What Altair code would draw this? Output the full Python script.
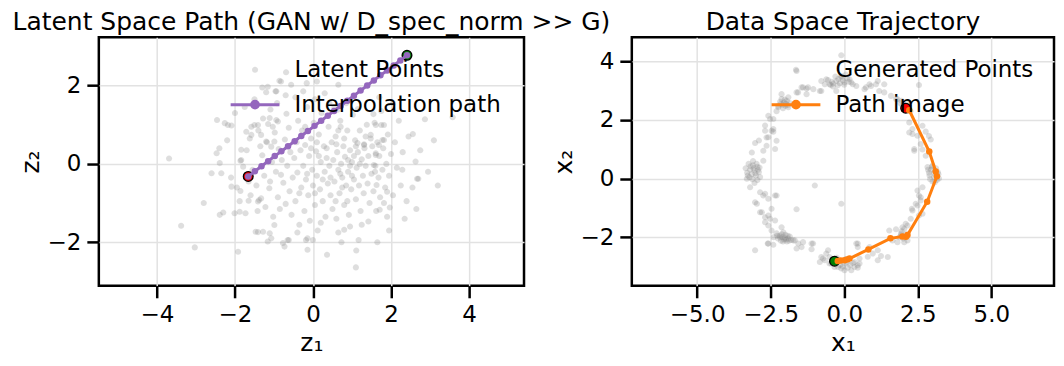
import altair as alt
import pandas as pd

# ---------------- data ----------------
LATENT_Z1 = [
    -3.69, -3.38, -3.03, -2.80, -2.46, -2.39, -2.30, -2.60, -2.39, -2.40, -2.18, -2.01, -1.92, -1.84, -1.79,
    -1.73, -1.47, -1.28, -1.11, -1.07, -0.99, -0.77, -0.62, -0.18, 0.00, 0.36, 1.10, 1.11, 1.17, 0.80,
    1.42, 1.82, 1.63, 2.29, 2.70, 2.63, 2.56, 2.87, 3.58, 1.82, 1.78, 1.61, 1.59, 1.31, 1.55,
    0.65, 0.10, -0.16, -0.56, -0.82, -1.20, -0.96, -1.09, -0.94, -1.28, -1.50, -1.62, 0.71, 0.63, 0.42,
    -1.45, -1.38, -1.30, -1.25, -1.22, -1.18, -1.12, -1.05, -1.02, -0.98, -0.95, -0.90, -0.88, -0.85, -0.80,
    -0.76, -0.72, -0.70, -0.66, -0.62, -0.60, -0.58, -0.55, -0.52, -1.55, -1.60, -1.35, -1.15, -0.92, -0.68,
    -1.42, -1.70, -1.95, -2.10, -1.88, -2.20, -1.65, -1.40, -1.10, -0.82,
    -0.48, -0.45, -0.42, -0.40, -0.38, -0.35, -0.32, -0.30, -0.28, -0.25, -0.22, -0.20, -0.18, -0.15, -0.12,
    -0.10, -0.08, -0.05, -0.02, 0.00, 0.02, 0.05, 0.08, 0.10, 0.12, 0.15, 0.18, 0.20, 0.22, 0.25,
    0.28, 0.30, 0.32, 0.35, 0.38, 0.40, 0.42, 0.45, 0.48, 0.50, -0.45, -0.25, 0.05, 0.30, -0.35,
    -0.15, 0.05, 0.15, 0.25, 0.35, -0.05, 0.45, -0.40, 0.20, 0.10, -0.20,
    0.52, 0.55, 0.58, 0.60, 0.62, 0.65, 0.68, 0.70, 0.72, 0.75, 0.78, 0.80, 0.82, 0.85, 0.88,
    0.90, 0.92, 0.95, 0.98, 1.00, 1.02, 1.05, 1.08, 1.10, 1.12, 1.15, 1.18, 1.20, 1.22, 1.25,
    1.28, 1.30, 1.32, 1.35, 1.38, 1.40, 1.42, 1.45, 1.48, 1.50, 0.55, 0.85, 1.15, 0.65, 0.95,
    1.25, 0.60, 0.75, 0.90, 1.05, 0.70, 1.00, 0.80, 1.20, 0.58, 1.10, 0.88, 1.35, 0.95, 0.65,
    1.52, 1.55, 1.58, 1.60, 1.62, 1.65, 1.68, 1.70, 1.72, 1.75, 1.78, 1.80, 1.85, 1.88, 1.90,
    1.92, 1.95, 2.00, 2.05, 2.10, 2.15, 2.20, 2.25, 2.30, 2.40, 2.45, 2.05, 1.70, 2.35, 1.95,
    2.55, 2.75, 2.95, 3.10, 2.65, 3.20, -1.75, -1.50, -1.30, -0.70, -2.00, -0.86, -0.69,
    -1.16, -0.94, -2.26, -2.09, -2.47, -2.35, -2.09, -1.86, -1.88, -1.41, -1.16, -0.65, -0.73, -0.14, -0.14,
    -1.58, -1.41, -1.71, -1.58, -1.33, -1.11, -1.03, -0.90, -1.20, -0.99, -1.07, -1.84, -1.86, -1.65, -1.41,
    -1.33, 2.67, 1.97, 1.71, 1.90, 1.65, 0.73, 1.75, 1.61, 1.82, 1.69, 1.48, 1.61, 1.56, 1.31, 1.14,
]
LATENT_Z2 = [
    0.14, -1.58, -2.13, -1.00, 1.12, -1.30, -1.24, -0.24, 0.02, 0.40, 0.99, -1.26, -2.24, 0.10, -0.07,
    -1.26, -1.73, -1.73, -1.77, -1.90, -1.56, -2.02, -1.94, -1.94, -1.94, -2.32, -2.64, -2.21, -1.94, -1.68,
    -1.47, -1.00, -0.54, -0.15, -0.38, 0.06, 0.76, 1.14, 1.19, 0.99, 0.61, 0.27, -0.20, 0.50, 1.27,
    2.02, 2.10, 2.06, 2.02, 2.10, 1.83, 1.85, 1.39, 1.12, 1.16, 0.99, 0.65, 0.95, 1.38, 1.55,
    -0.55, -0.92, 0.22, -0.30, -1.10, 0.55, -0.62, 0.05, -1.35, 0.80, -0.20, -0.85, 0.38, -1.15, 0.10,
    -0.48, 0.62, -1.02, -0.05, 0.92, -0.70, 0.30, -1.30, -0.35, -0.15, -0.80, 0.45, 1.02, 1.55, 1.28,
    -1.20, 0.35, -0.60, -0.35, -0.95, 0.60, -0.45, 0.85, -0.45, -0.28,
    0.15, -0.95, 0.55, -0.22, 1.10, -1.55, 0.35, -0.60, 0.85, -0.05, -1.20, 0.48, -0.40, 1.45, -0.80,
    0.20, -1.45, 0.65, -0.15, -0.55, 1.05, -1.05, 0.32, -0.30, -1.70, 0.75, -0.65, 0.05, 1.30, -0.95,
    0.45, -0.20, -1.35, 0.15, -0.50, 0.95, -0.05, -0.80, 0.55, -1.15, 1.70, 1.85, 1.65, 1.80, -0.75,
    -0.25, -0.75, 0.20, -0.40, 0.40, 0.40, -0.35, -1.75, -1.50, 0.55, 0.95,
    0.10, -0.45, 0.70, -1.40, 0.30, -0.15, -0.75, 1.10, 0.00, -0.35, 0.45, -1.05, 0.18, -0.55, 0.85,
    -0.20, -1.30, 0.35, -0.65, 0.05, 1.25, -0.40, 0.60, -0.90, -0.10, 0.30, -0.55, 0.85, -1.20, 0.12,
    -0.30, -0.75, 0.40, -0.05, 1.00, -0.50, 0.20, -1.00, 0.65, -0.25, 1.45, 1.55, 1.40, -1.75, -1.60,
    -1.55, 0.50, -0.60, 0.10, 0.20, -0.25, -0.30, 0.65, 0.00, -0.95, 0.45, -0.95, 0.70, -0.05, 0.85,
    0.45, -0.70, 1.05, -0.05, -1.20, 0.55, -0.35, 0.20, -0.85, 1.35, -0.15, 0.40, -0.60, 0.00, -1.35,
    0.75, -0.30, 0.25, -0.80, 0.55, -0.10, 1.10, -0.55, 0.30, -0.95, 0.70, 1.55, 1.70, -1.40, -1.70,
    -0.60, 0.35, -0.20, 0.60, -1.15, -0.55, 1.45, 1.65, 1.95, 1.75, 1.30, 2.12, 2.34,
    1.97, 1.85, 1.04, 0.98, 0.27, -0.24, -0.58, -0.69, -1.22, -1.74, -1.98, -1.94, -2.11, -1.90, -2.19,
    0.95, 0.99, 0.82, 0.74, 0.74, 1.17, 0.95, 1.08, 0.57, 0.57, 0.44, 0.36, 0.08, -0.94, -0.96,
    -0.88, -0.38, -1.11, -1.17, -0.71, -2.00, -2.00, 0.99, 0.99, 0.61, 0.48, 0.74, 0.23, -0.03, 0.48, 0.53,
]
PATH_Z1 = [-1.66, -1.49, -1.32, -1.15, -0.98, -0.81, -0.64, -0.47, -0.30, -0.13, 0.04, 0.21, 0.38,
           0.54, 0.71, 0.88, 1.05, 1.22, 1.39, 1.56, 1.73, 1.90, 2.07, 2.24, 2.41]
PATH_Z2 = [-0.32, -0.19, -0.06, 0.07, 0.20, 0.32, 0.45, 0.58, 0.71, 0.84, 0.97, 1.10, 1.23,
           1.35, 1.48, 1.61, 1.74, 1.87, 2.00, 2.13, 2.26, 2.38, 2.51, 2.64, 2.77]
LAT_RED = (-1.66, -0.32)
LAT_GREEN = (2.41, 2.77)

GEN_X1 = [
    -0.61, -0.50, -0.38, -0.27, -0.10, 0.01, 0.18, 0.29, 0.41, -0.55, -0.46, -0.38, -0.27, -0.10, 0.24,
    -0.20, -0.05, 0.10, -0.30, -0.15, 0.05, -0.42, 0.15, -0.22, 0.00, -0.10, -1.62,
    -0.78, -0.83, -0.78, -0.66, -1.45, -1.23, -1.28, -1.40, -1.28, -1.57, -1.62, -1.05,
    -2.13, -1.90, -2.24, -2.13, -1.90, -2.24, -2.05, -1.98, -2.10, -1.95, -2.18, -2.00, -1.85, -2.08, -2.30,
    -2.02, -1.92, -2.15,
    -2.58, -2.41, -2.69, -2.47, -2.64, -2.41, -2.52, -2.58, -2.69, -2.41, -2.30, -2.35, -3.03, -2.75, -3.14,
    -2.64, -2.75, -2.90,
    -3.25, -3.10, -2.95, -3.20, -3.05, -2.90, -3.15, -3.00, -2.86, -3.22, -3.08, -2.98, -3.30, -3.12, -2.93,
    -3.18, -3.02, -3.28, -2.88, -3.10, -3.31, -3.20, -3.05, -3.35, -2.95,
    -2.86, -2.75, -3.03, -2.58, -2.30, -2.69, -2.97, -2.86, -2.58, -2.69, -2.80, -2.69, -2.47, -2.52, -2.35,
    -2.58, -2.47, -2.13, -2.07, -1.62, -2.35,
    -2.30, -2.20, -2.10, -2.00, -1.90, -1.80, -2.25, -2.15, -2.05, -1.95, -1.85, -2.12, -2.02, -2.18, -1.92,
    -2.08, -1.98, -2.28, -1.88, -2.40, -2.60, -2.41, -3.03, -2.58,
    -1.68, -1.56, -1.45, -1.40, -1.06, -1.11, -1.62, -1.11, -1.73, -0.83, -0.72, -0.55, -0.50, -0.78, -0.61,
    -0.66,
    -0.50, -0.33, -0.10, 0.12, 0.35, 0.52, -0.21, 0.01, -0.44, -0.21, 0.01, 0.24, 0.46, -0.30, -0.15,
    0.10, 0.20, -0.05, -0.38, 0.30, -0.25, 0.05,
    0.41, 0.46, 0.80, 1.14, 0.86, 0.97, 1.14, 1.48, 0.46, 0.52, 1.25, 0.46, 0.35,
    1.53, 1.64, 1.93, 2.15, 1.98, 2.09, 1.76, 2.04, 1.93, 1.81, 2.04, 1.88, 2.00, 1.95, 2.10,
    2.32, 2.43, 2.60, 2.49, 2.66, 2.54, 2.60, 2.49, 2.66, 2.54, 2.30, 2.26, 2.15,
    2.83, 2.95, 3.10, 3.20, 3.05, 2.90, 3.15, 3.00, 2.88, 3.12, 3.22, 2.98, 3.05, 2.92, 3.18,
    3.08, 2.85, 3.00,
    2.38, 2.60, 2.49, 2.32, 2.21, 2.66, 2.88, 2.94, 2.77, 2.32, 2.21, 2.38, 2.77, 2.66,
    1.98, 2.15, 1.81, 2.05, 2.20, 1.90, 2.10, 1.95, 2.25, 2.54,
    1.14, 1.36, 0.91, 0.69, 0.74, 0.86, 1.08, 1.19, 1.36, 1.59, 1.76,
    -1.00, -0.10,
]
GEN_X2 = [
    3.39, 3.22, 3.24, 3.33, 3.45, 3.28, 3.39, 3.22, 3.16, 3.36, 3.19, 3.14, 2.99, 3.50, 3.28,
    3.40, 3.35, 3.42, 3.48, 3.25, 3.55, 3.30, 3.30, 3.18, 3.20, 4.21, 3.67,
    2.99, 2.99, 3.33, 3.22, 3.11, 3.11, 3.07, 3.11, 2.88, 2.94, 2.94, 3.05,
    2.71, 2.43, 2.43, 2.88, 2.77, 2.48, 2.60, 2.55, 2.52, 2.65, 2.62, 2.48, 2.58, 2.40, 2.30,
    2.70, 2.50, 2.55,
    2.14, 2.03, 1.81, 1.63, 1.40, 1.60, 2.03, 1.41, 1.63, 1.69, 1.29, 1.01, 1.21, 0.95, 0.89,
    1.12, 0.61, 1.30,
    0.50, 0.45, 0.40, 0.30, 0.28, 0.22, 0.15, 0.10, 0.05, 0.04, 0.35, 0.50, 0.20, -0.02, 0.30,
    0.42, 0.18, 0.10, 0.38, 0.60, -0.01, -0.30, -0.15, 0.35, -0.05,
    -0.47, -0.58, -0.81, -0.69, -0.58, -0.52, -0.86, -1.15, -1.26, -1.49, -1.15, -1.32, -1.03, -1.37, -1.43,
    -1.60, -1.77, -1.66, -1.83, -1.05, -0.58,
    -1.87, -1.95, -2.00, -1.92, -2.05, -2.10, -2.05, -2.12, -2.08, -2.15, -1.98, -1.90, -2.02, -2.00, -1.95,
    -2.15, -2.08, -1.95, -2.12, -2.00, -2.22, -2.26, -2.45, -2.22,
    -2.11, -2.22, -2.34, -2.17, -2.22, -2.41, -2.39, -2.22, -2.11, -2.85, -2.73, -2.45, -2.68, -2.68, -2.56,
    -2.79,
    -2.90, -3.02, -3.07, -3.04, -3.02, -2.90, -2.79, -2.90, -2.90, -3.02, -3.13, -3.13, -3.04, -2.85, -2.95,
    -2.85, -2.95, -3.00, -2.75, -2.88, -2.70, -2.75,
    -2.22, -2.34, -2.67, -2.45, -2.34, -2.56, -2.79, -2.68, -2.22, -2.73, -2.64, -2.96, -2.85,
    -1.77, -2.11, -1.94, -2.11, -1.66, -1.54, -1.73, -1.71, -1.88, -2.17, -2.17, -2.00, -2.05, -1.80, -1.90,
    -1.09, -0.86, -0.64, -0.41, -0.30, -0.58, -0.75, -0.92, -1.20, -1.26, -1.03, -1.37, -1.60,
    0.39, 0.30, 0.25, 0.15, 0.05, 0.10, -0.05, -0.10, 0.20, 0.35, 0.00, 0.40, 0.20, -0.02, 0.22,
    -0.13, 0.30, 0.44,
    0.95, 1.18, 1.46, 1.69, 1.91, 1.80, 1.45, 1.33, 1.60, 1.52, 1.57, 1.01, 0.78, 0.99,
    2.48, 2.60, 2.71, 2.40, 2.45, 2.58, 2.35, 2.65, 2.30, 3.19,
    3.33, 3.22, 3.16, 3.05, 3.11, 3.22, 3.22, 2.99, 2.94, 2.82, 2.71,
    -0.24, -0.86,
]
IMG_X1 = [-0.22, -0.12, 0.01, 0.10, 0.18, 0.82, 1.57, 1.98, 2.10, 2.15, 2.82, 3.15, 3.11, 2.89, 2.21]
IMG_X2 = [-2.81, -2.80, -2.79, -2.76, -2.73, -2.42, -2.04, -1.98, -1.99, -1.93, -0.79, 0.08, 0.24, 0.92, 2.33]
GEN_GREEN = (-0.33, -2.82)
GEN_RED = (2.09, 2.40)

GRAY = "#808080"
PURPLE = "#9467bd"
ORANGE = "#ff7f0e"
FONT = "DejaVu Sans"

# legend symbols (unit square is 33.7 px wide; the line reaches beyond it)
SYM_SIZE = 1136
LINE_SYM = "M-1.45,0H1.45M-0.2,0A0.2,0.2,0,1,0,0.2,0A0.2,0.2,0,1,0,-0.2,0Z"
DOT_SYM = "M-0.18,0A0.18,0.18,0,1,0,0.18,0A0.18,0.18,0,1,0,-0.18,0Z"


def panel(cloud_x, cloud_y, path_x, path_y, red, green, names, line_color,
          xdom, ydom, xticks, yticks, xfmt, yfmt, xtitle, ytitle, title, width, lx, ly):
    cloud = pd.DataFrame({"x": cloud_x, "y": cloud_y, "series": names[0]})
    path = pd.DataFrame({"x": path_x, "y": path_y, "i": list(range(len(path_x)))})
    red_df = pd.DataFrame({"x": [red[0]], "y": [red[1]]})
    green_df = pd.DataFrame({"x": [green[0]], "y": [green[1]]})

    xs = alt.Scale(domain=xdom, nice=False, zero=False)
    ys = alt.Scale(domain=ydom, nice=False, zero=False)
    xax = alt.Axis(values=xticks, format=xfmt, title=xtitle)
    yax = alt.Axis(values=yticks, format=yfmt, title=ytitle)
    leg = alt.Legend(
        title=None, orient="none", legendX=lx, legendY=ly, padding=0,
        labelFont=FONT, labelFontSize=23, labelColor="black", labelLimit=400,
        symbolSize=SYM_SIZE, symbolStrokeWidth=3, labelOffset=21, rowPadding=4)

    base_x = alt.X("x:Q", scale=xs, axis=xax)
    base_y = alt.Y("y:Q", scale=ys, axis=yax)

    pts = alt.Chart(cloud).mark_point(filled=True, size=SYM_SIZE, strokeWidth=3).encode(
        x=base_x, y=base_y,
        color=alt.Color("series:N", scale=alt.Scale(domain=names, range=[GRAY, line_color]), legend=leg),
        stroke=alt.Stroke("series:N", scale=alt.Scale(domain=names, range=["transparent", line_color]),
                          legend=leg),
        shape=alt.Shape("series:N", scale=alt.Scale(domain=names, range=[DOT_SYM, LINE_SYM]), legend=leg),
        opacity=alt.Opacity("series:N", scale=alt.Scale(domain=names, range=[0.25, 1]), legend=leg),
    )
    red_m = alt.Chart(red_df).mark_circle(size=95, opacity=1, color="#ff0000", stroke="black",
                                          strokeWidth=1.3).encode(x=base_x, y=base_y)
    green_m = alt.Chart(green_df).mark_circle(size=95, opacity=1, color="#008000", stroke="black",
                                              strokeWidth=1.3).encode(x=base_x, y=base_y)
    line = alt.Chart(path).mark_line(strokeWidth=3, color=line_color).encode(
        x=base_x, y=base_y, order=alt.Order("i:Q"))
    dots = alt.Chart(path).mark_circle(size=42, opacity=1, color=line_color).encode(x=base_x, y=base_y)

    return alt.layer(pts, red_m, green_m, line, dots).properties(width=width, height=249, title=title)


left = panel(LATENT_Z1, LATENT_Z2, PATH_Z1, PATH_Z2, LAT_RED, LAT_GREEN,
             ["Latent Points", "Interpolation path"], PURPLE,
             [-5.49, 5.41], [-3.11, 3.23], [-4, -2, 0, 2, 4], [-2, 0, 2], "d", "d",
             "z\u2081", "z\u2082", "Latent Space Path (GAN w/ D_spec_norm >> G)", 426, 138, 14)
right = panel(GEN_X1, GEN_X2, IMG_X1, IMG_X2, GEN_RED, GEN_GREEN,
              ["Generated Points", "Path image"], ORANGE,
              [-7.22, 7.13], [-3.66, 4.82], [-5, -2.5, 0, 2.5, 5], [-2, 0, 2, 4], ".1f", "d",
              "x\u2081", "x\u2082", "Data Space Trajectory", 423, 146, 14)

chart = alt.hconcat(left, right, spacing=108, bounds="flush").resolve_scale(
    color="independent", stroke="independent", shape="independent", opacity="independent"
).configure(
    font=FONT, padding={"left": 3, "top": 0, "right": 0, "bottom": 0}
).configure_view(stroke="black", strokeWidth=2.5).configure_axis(
    labelFont=FONT, titleFont=FONT, labelFontSize=23, titleFontSize=25, labelColor="black",
    titleColor="black", titleFontWeight="normal", tickColor="black", tickWidth=2.5, tickSize=12,
    labelPadding=6, titlePadding=4, domain=False, grid=True, gridColor="#e2e2e2", gridWidth=1.5
).configure_title(font=FONT, fontSize=25, fontWeight="normal", color="black", anchor="middle", offset=2)

chart.save("out.html", embed_options={"renderer": "svg", "actions": False})
